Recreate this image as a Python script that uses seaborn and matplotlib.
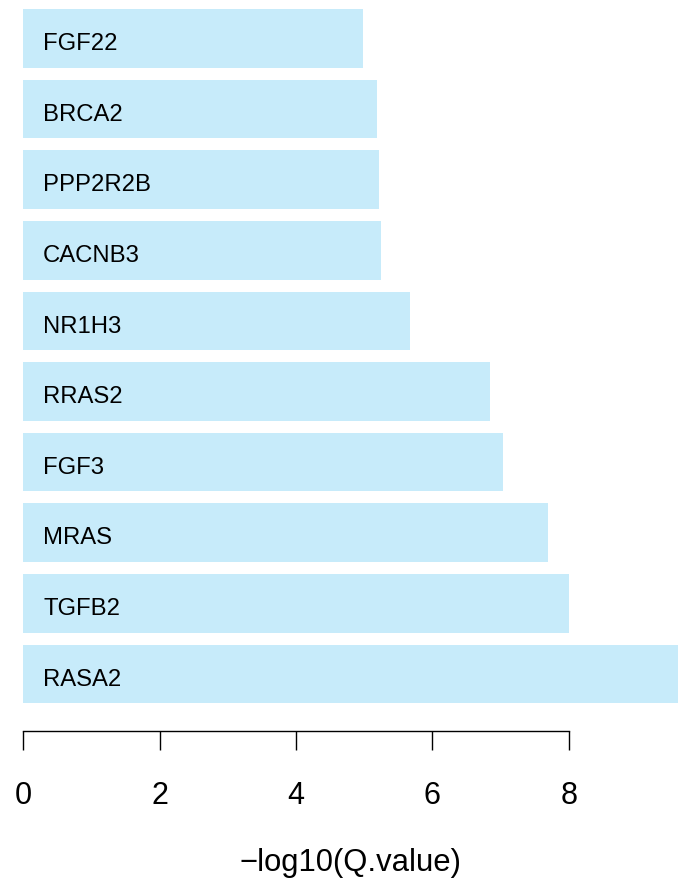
"""
Top genes by -log10(Q.value), horizontal bar chart
"""

import matplotlib
matplotlib.use("Agg")
import matplotlib.pyplot as plt
import seaborn as sns
import pandas as pd

# Data
genes = ["FGF22", "BRCA2", "PPP2R2B", "CACNB3", "NR1H3",
         "RRAS2", "FGF3", "MRAS", "TGFB2", "RASA2"]
neg_log_q = [4.98, 5.19, 5.21, 5.25, 5.67, 6.85, 7.04, 7.70, 8.00, 9.70]
x_ticks = [0, 2, 4, 6, 8]

bar_color = "#C7EBFA"

sns.set_style("white")
plt.rcParams["font.family"] = ["Liberation Sans", "DejaVu Sans"]

df = pd.DataFrame({"gene": genes, "value": neg_log_q})

fig = plt.figure(figsize=(6.78, 8.84), dpi=100)
ax = fig.add_axes([0.03437, 0.1734, 0.96563, 0.8474])

sns.barplot(data=df, x="value", y="gene", orient="h", color=bar_color,
            width=0.831, saturation=1, ax=ax, linewidth=0)

# gene names inside the bars
for i, g in enumerate(genes):
    ax.text(0.29, i + 0.08, g, ha="left", va="center", fontsize=17.2,
            color="black")

ax.set_xlim(0, 9.60)
ax.set_ylim(9.804, -0.804)

for side in ["top", "right", "left"]:
    ax.spines[side].set_visible(False)
ax.spines["bottom"].set_bounds(0, 8)
ax.spines["bottom"].set_linewidth(1.0)
ax.spines["bottom"].set_color("black")

ax.set_yticks([])
ax.set_ylabel("")
ax.set_xticks(x_ticks)
ax.set_xticklabels([str(t) for t in x_ticks], fontsize=22, color="black")
ax.tick_params(axis="x", bottom=True, length=13.7, width=1.0, color="black",
               direction="out", pad=22.5)
ax.set_xlabel("\u2212log10(Q.value)", fontsize=22.3, color="black",
              labelpad=27)

fig.savefig("out.png", dpi=100)
plt.close(fig)
